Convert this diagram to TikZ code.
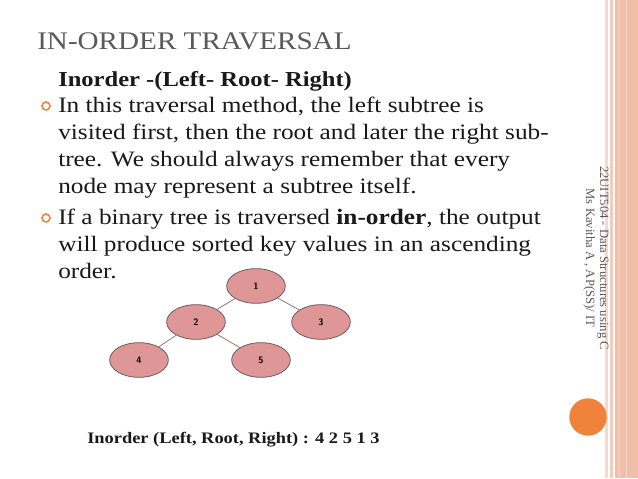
\documentclass[tikz,border=0pt]{standalone}
\usepackage{fontspec}
\setmainfont{Liberation Serif}[FakeStretch=1.15]
\newfontfamily\sidefont{Liberation Serif}
\definecolor{titlec}{RGB}{90,90,90}
\definecolor{bodyc}{RGB}{25,25,25}
\definecolor{orng}{RGB}{240,130,60}
\definecolor{peach}{RGB}{242,190,170}
\definecolor{nodefill}{RGB}{222,150,150}
\definecolor{nodeline}{RGB}{110,90,90}
\begin{document}
\begin{tikzpicture}[x=0.75pt,y=-0.75pt,
  txt/.style={anchor=base west,inner sep=0,font=\fontsize{16.5}{18}\selectfont,text=bodyc},
  bul/.style={draw=orng,line width=1.2pt,circle,minimum size=6pt,inner sep=0},
  tn/.style={ellipse,draw=nodeline,fill=nodefill,line width=0.6pt,minimum width=44pt,minimum height=26pt,inner sep=0,font=\sffamily\bfseries\fontsize{7}{8}\selectfont},
  edge/.style={draw=nodeline!80,line width=0.6pt}]
\usetikzlibrary{shapes.geometric}
\fill[white] (0,0) rectangle (638,478);
\useasboundingbox (0,0) rectangle (638,478);
% right band
\fill[peach!60] (605,0) rectangle (608,478);
\fill[peach!80] (610,0) rectangle (613,478);
\fill[peach] (615,0) rectangle (638,478);
\fill[orng!40] (618,0) rectangle (620,478);
\fill[orng!30] (626,0) rectangle (627,478);
\node[rotate=-90,font=\sidefont\fontsize{9.5}{10.5}\selectfont,text=titlec,align=center] (side) at (596,258) {22UIT504 - Data Structures using C\\Ms Kavitha A , AP(SS)/ IT};
\node[circle,fill=orng,minimum size=28pt,inner sep=0] (dot) at (588,417) {};
% title
\node[txt,font=\fontsize{19}{21}\selectfont,text=titlec] (title) at (37,50) {IN-ORDER TRAVERSAL};
\node[txt,font=\bfseries\fontsize{16}{18}\selectfont] (sub) at (58,86) {Inorder -(Left- Root- Right)};
\node[bul] (b1) at (46,106) {};
\node[txt] (l1) at (58,112) {In this traversal method, the left subtree is};
\node[txt] (l2) at (58,139) {visited first, then the root and later the right sub-};
\node[txt] (l3) at (58,166) {tree. We should always remember that every};
\node[txt] (l4) at (58,193) {node may represent a subtree itself.};
\node[bul] (b2) at (46,218) {};
\node[txt] (l5) at (58,224) {If a binary tree is traversed \textbf{in-order}, the output};
\node[txt] (l6) at (58,251) {will produce sorted key values in an ascending};
\node[txt] (l7) at (58,278) {order.};
% tree
\node[tn] (n1) at (256,286) {1};
\node[tn] (n2) at (196,322) {2};
\node[tn] (n3) at (321,322) {3};
\node[tn] (n4) at (139,360) {4};
\node[tn] (n5) at (261,360) {5};
\draw[edge] (n1) -- (n2);
\draw[edge] (n1) -- (n3);
\draw[edge] (n2) -- (n4);
\draw[edge] (n2) -- (n5);
\node[txt,font=\bfseries\fontsize{12}{14}\selectfont] (foot) at (87,443) {Inorder (Left, Root, Right) : 4 2 5 1 3};
\end{tikzpicture}
\end{document}
